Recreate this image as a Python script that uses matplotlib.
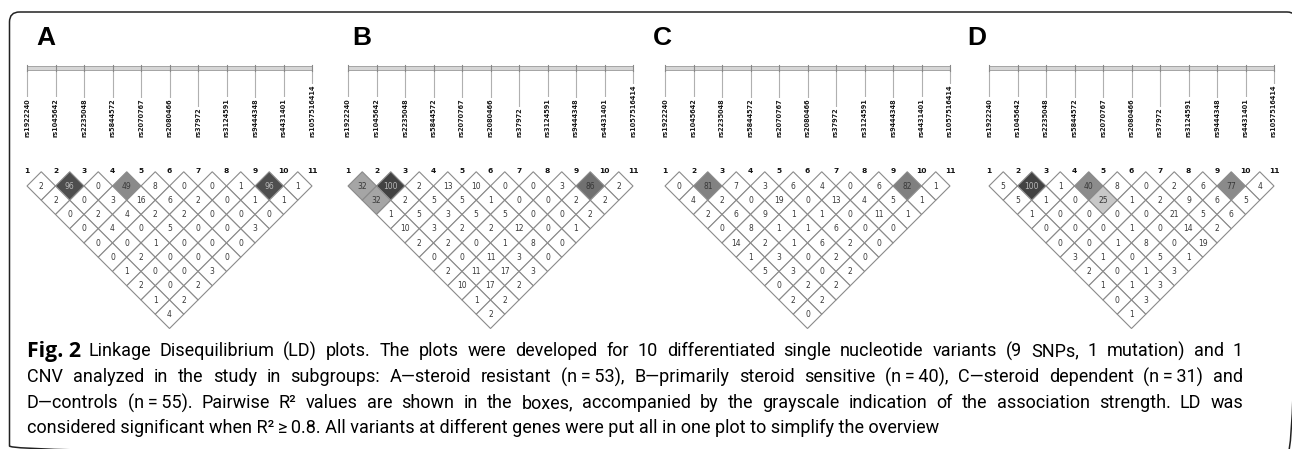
import matplotlib
matplotlib.use("Agg")
import matplotlib.pyplot as plt
from matplotlib.patches import Polygon, Rectangle, FancyBboxPatch
import numpy as np

W, H = 1292, 449

# ---------------- data ----------------
snps = ["rs1922240", "rs1045642", "rs2235048", "rs5844572", "rs2070767",
        "rs2080466", "rs37972", "rs3124591", "rs9444348", "rs4431401",
        "rs1057516414"]
panel_letters = ["A", "B", "C", "D"]

# pairwise R^2 (x100); row d holds pairs (i, i+d)
ld_A = [[2, 96, 0, 49, 8, 0, 0, 1, 96, 1],
        [2, 0, 3, 16, 6, 2, 0, 1, 1],
        [0, 2, 4, 2, 2, 0, 0, 0],
        [0, 4, 0, 5, 0, 0, 3],
        [0, 0, 1, 0, 0, 0],
        [0, 2, 0, 0, 0],
        [1, 0, 0, 3],
        [2, 0, 2],
        [1, 2],
        [4]]
ld_B = [[32, 100, 2, 13, 10, 0, 0, 3, 86, 2],
        [32, 2, 5, 5, 1, 0, 0, 2, 2],
        [1, 5, 3, 5, 5, 0, 0, 2],
        [10, 3, 2, 2, 12, 0, 1],
        [2, 2, 0, 1, 8, 0],
        [0, 0, 11, 3, 0],
        [2, 11, 17, 3],
        [10, 17, 2],
        [1, 2],
        [2]]
ld_C = [[0, 81, 7, 3, 6, 4, 0, 6, 82, 1],
        [4, 2, 0, 19, 0, 13, 4, 5, 1],
        [2, 6, 9, 1, 1, 0, 11, 1],
        [0, 8, 1, 1, 6, 0, 0],
        [14, 2, 1, 6, 2, 0],
        [1, 3, 0, 2, 0],
        [5, 3, 0, 2],
        [0, 2, 2],
        [2, 2],
        [0]]
ld_D = [[5, 100, 1, 40, 8, 0, 2, 6, 77, 4],
        [5, 1, 0, 25, 1, 2, 9, 6, 5],
        [1, 0, 0, 0, 0, 21, 5, 6],
        [0, 0, 0, 1, 0, 14, 2],
        [0, 0, 1, 8, 0, 19],
        [3, 1, 0, 5, 1],
        [2, 0, 1, 3],
        [1, 1, 3],
        [0, 3],
        [1]]
panels = [ld_A, ld_B, ld_C, ld_D]

caption_bold = "Fig. 2"
caption_lines = [
    "Linkage Disequilibrium (LD) plots. The plots were developed for 10 differentiated single nucleotide variants (9 SNPs, 1 mutation) and 1",
    "CNV analyzed in the study in subgroups: A\u2014steroid resistant (n\u2009=\u200953), B\u2014primarily steroid sensitive (n\u2009=\u200940), C\u2014steroid dependent (n\u2009=\u200931) and",
    "D\u2014controls (n\u2009=\u200955). Pairwise R\u00b2 values are shown in the boxes, accompanied by the grayscale indication of the association strength. LD was",
    "considered significant when R\u00b2\u2009\u2265\u20090.8. All variants at different genes were put all in one plot to simplify the overview",
]

# ---------------- style / layout ----------------
U = 28.5                       # px per marker spacing
panel_x0 = [27, 348, 665, 989] # px of first marker
letter_x = [36, 352, 653, 967] # px of panel letter left edge
Y0 = 186                       # px of row-1 side vertices


def shade(v):
    return np.interp(v, [21.9, 22, 25, 32, 40, 49, 77, 82, 86, 96, 100],
                     [255, 215, 200, 165, 140, 138, 138, 128, 112, 78, 66])


fig = plt.figure(figsize=(W / 100, H / 100), dpi=100)
fig.patch.set_facecolor("white")


def py(px):  # pixel y -> panel data y
    return (px - Y0) / U


for p, (ld, x0, letter, lx) in enumerate(zip(panels, panel_x0, panel_letters, letter_x)):
    ax = fig.add_axes([0, 0, 1, 1])
    ax.set_xlim(1 - x0 / U, 1 + (W - x0) / U)
    ax.set_ylim((H - Y0) / U, -Y0 / U)
    ax.axis("off")
    ax.patch.set_alpha(0)
    n = len(snps)
    xs = np.arange(1, n + 1)

    # panel letter
    ax.text(1 + (lx - x0) / U, py(38), letter, fontsize=19, fontweight="bold",
            family="Liberation Sans", ha="left", va="center")

    # marker bar
    ax.add_patch(Rectangle((1, py(66.3)), n - 1, 4 / U, facecolor="#d6d6d6",
                           edgecolor="#a4a4a4", lw=0.7))
    for k, (x, name) in enumerate(zip(xs, snps)):
        ax.plot([x, x], [py(65), py(71)], color="#888888", lw=0.8)
        ax.plot([x, x], [py(70), py(136)], color="#b0b0b0", lw=0.8, zorder=1)
        ax.text(x, py(137), name, rotation=90, fontsize=4.7, ha="center",
                va="bottom", color="#1a1a1a", family="DejaVu Sans",
                fontweight="bold", zorder=3,
                bbox=dict(facecolor="white", edgecolor="none", pad=0.6))
        ax.text(x, py(170.5), str(k + 1), fontsize=5.4, fontweight="bold",
                ha="center", va="center", color="#111111")

    # LD diamonds
    for d, row in enumerate(ld, start=1):
        for i, v in enumerate(row, start=1):
            j = i + d
            cx = (i + j) / 2
            cy = (d - 1) / 2
            g = shade(v) / 255
            poly = Polygon([(cx - 0.5, cy), (cx, cy - 0.5), (cx + 0.5, cy),
                            (cx, cy + 0.5)], closed=True,
                           facecolor=(g, g, g), edgecolor="#8a8a8a", lw=0.8,
                           zorder=2)
            ax.add_patch(poly)
            tc = "#b8b8b8" if g < 0.42 else "#383838"
            ax.text(cx, cy, str(v), fontsize=5.5, ha="center", va="center",
                    color=tc, zorder=3)

# ---------------- caption & frame ----------------
cax = fig.add_axes([0, 0, 1, 1])
cax.set_xlim(0, W)
cax.set_ylim(H, 0)
cax.axis("off")
cax.patch.set_alpha(0)

cax.add_patch(FancyBboxPatch((9.5, 12), 1287.5, 444,
                             boxstyle="round,pad=0,rounding_size=10",
                             fill=False, edgecolor="#222222", lw=1.1,
                             clip_on=False))

fam = "Roboto"
line_y = [351, 377, 403, 428]
line_x0 = [88, 27, 27, 27]
right_edge = 1243
target_gap = 9.0

renderer = fig.canvas.get_renderer()


def width_of(s, fs, weight="normal", family=fam):
    t = cax.text(0, 0, s, fontsize=fs, family=family, fontweight=weight)
    w = t.get_window_extent(renderer).width
    t.remove()
    return w


# font size chosen so that the justified first line has ~target_gap word gaps
w1 = caption_lines[0].split(" ")
natural = sum(width_of(w, 12) for w in w1)
fs = 12 * (right_edge - line_x0[0] - target_gap * (len(w1) - 1)) / natural

bold_fam = "Open Sans"
fsb = 12 * (81 - 27) / width_of(caption_bold, 12, "bold", bold_fam)
cax.text(27, line_y[0], caption_bold, fontsize=fsb, family=bold_fam,
         fontweight="bold", va="center", ha="left")

for k, (s, y, x0) in enumerate(zip(caption_lines, line_y, line_x0)):
    if k == 3:
        cax.text(x0, y, s, fontsize=fs, family=fam, va="center", ha="left")
        continue
    words = s.split(" ")
    ws = [width_of(w, fs) for w in words]
    gap = (right_edge - x0 - sum(ws)) / (len(words) - 1)
    x = x0
    for w, wd in zip(words, ws):
        cax.text(x, y, w, fontsize=fs, family=fam, va="center", ha="left")
        x += wd + gap

fig.savefig("out.png", dpi=100, facecolor="white")
